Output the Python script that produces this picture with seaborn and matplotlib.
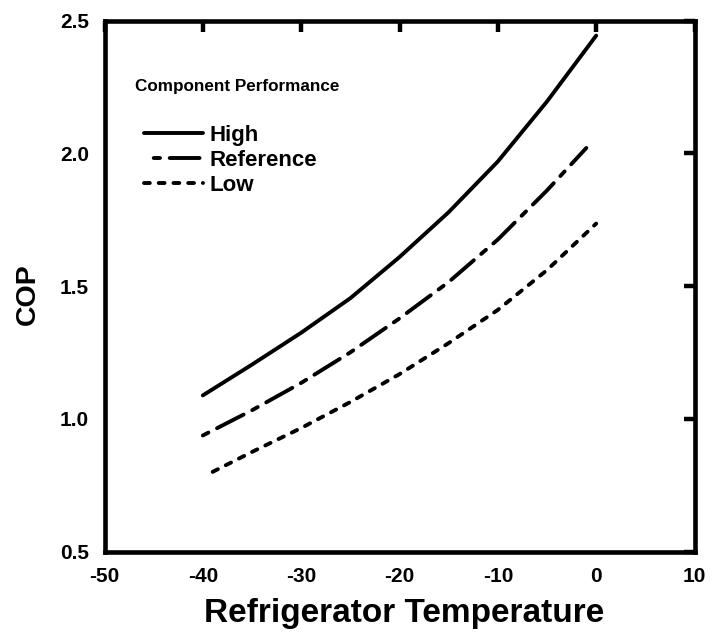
import matplotlib
matplotlib.use("Agg")
import matplotlib.pyplot as plt
import seaborn as sns
import pandas as pd

# Data
temp_high = [-40, -35, -30, -25, -20, -15, -10, -5, 0]
cop_high = [1.088, 1.204, 1.324, 1.454, 1.609, 1.778, 1.969, 2.195, 2.443]

temp_ref = [-40, -35, -30, -25, -20, -15, -10, -5, -1]
cop_ref = [0.937, 1.032, 1.135, 1.250, 1.378, 1.515, 1.675, 1.860, 2.020]

temp_low = [-39, -35, -30, -25, -20, -15, -10, -5, 0]
cop_low = [0.800, 0.875, 0.965, 1.063, 1.168, 1.285, 1.410, 1.560, 1.735]

series_names = ["High", "Reference", "Low"]
legend_title = "Component Performance"
x_ticks = [-50, -40, -30, -20, -10, 0, 10]
y_ticks = [0.5, 1.0, 1.5, 2.0, 2.5]

sns.set_style("white")
plt.rcParams["font.family"] = ["Liberation Sans", "DejaVu Sans"]
plt.rcParams["font.weight"] = "bold"
plt.rcParams["lines.scale_dashes"] = False
for key in ["text.color", "axes.labelcolor", "xtick.color", "ytick.color",
            "xtick.labelcolor", "ytick.labelcolor", "axes.edgecolor"]:
    plt.rcParams[key] = "black"

fig = plt.figure(figsize=(7.12, 6.35), dpi=100)
ax = fig.add_axes([104.5 / 712, 83.5 / 635, 590 / 712, 531 / 635])

lw = 2.8
ref_pattern = (21.5, 7.0, 4.5, 7.0)
styles = ["-", (28.5, ref_pattern), (0, (4.2, 6.4))]
data = [(temp_high, cop_high), (temp_ref, cop_ref), (temp_low, cop_low)]
for (tx, cy), name, ls in zip(data, series_names, styles):
    df = pd.DataFrame({"T": tx, "COP": cy})
    sns.lineplot(data=df, x="T", y="COP", ax=ax, color="black", linewidth=lw,
                 linestyle=ls, label=name, dash_capstyle="round",
                 solid_capstyle="round")

ax.set_xlim(-50, 10)
ax.set_ylim(0.5, 2.5)
ax.set_xticks(x_ticks)
ax.set_yticks(y_ticks)
ax.set_xticklabels([str(t) for t in x_ticks])
ax.set_yticklabels([f"{t:.1f}" for t in y_ticks])
ax.tick_params(direction="in", length=8, width=3.2, top=True, right=True,
               labelsize=15, pad=11, colors="black")
for lab in ax.get_xticklabels() + ax.get_yticklabels():
    lab.set_fontweight("bold")
for sp in ax.spines.values():
    sp.set_linewidth(3.3)
    sp.set_color("black")

ax.set_xlabel("Refrigerator Temperature", fontsize=24, fontweight="bold",
              labelpad=9, color="black")
ax.set_ylabel("COP", fontsize=20.5, fontweight="bold", labelpad=14, color="black")
ax.xaxis.label.set_x(0.507)
ax.yaxis.label.set_y(0.485)

ax.text(0.0524, 0.8766, legend_title, transform=ax.transAxes, ha="left",
        va="center", fontsize=12.3, fontweight="bold", color="black")

leg = ax.legend(frameon=False, loc="upper left",
                bbox_to_anchor=(0.0676, 0.804),
                prop={"weight": "bold", "size": 16},
                handlelength=2.66, handletextpad=0.27, labelspacing=0.19,
                borderaxespad=0, borderpad=0, labelcolor="black")
leg.get_lines()[1].set_linestyle((21.5, ref_pattern))

fig.savefig("out.png", dpi=100)
